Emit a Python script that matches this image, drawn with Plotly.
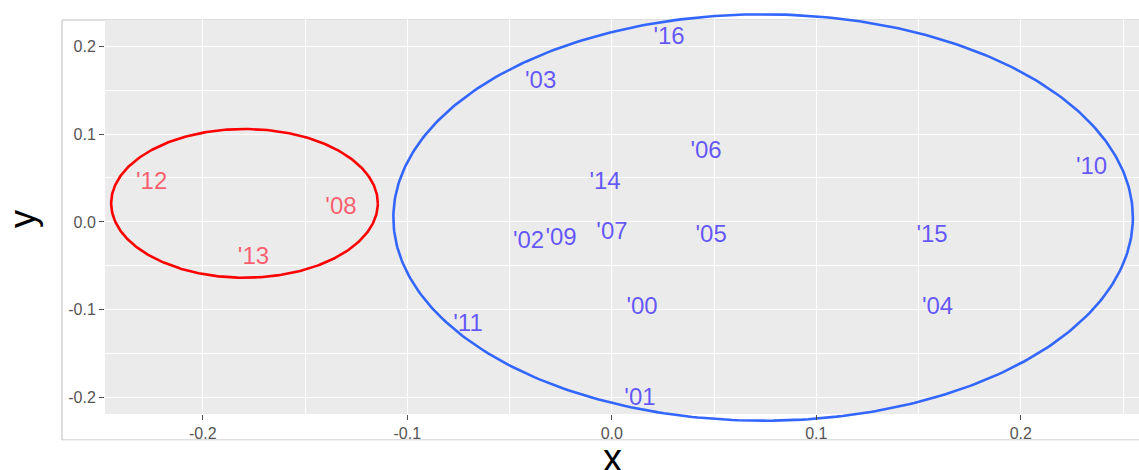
import numpy as np
import plotly.graph_objects as go

# Year labels and their (x, y) coordinates, grouped by cluster
red_labels = ["'12", "'08", "'13"]
red_x = [-0.2250, -0.1324, -0.1752]
red_y = [0.0448, 0.0164, -0.0405]

blue_labels = ["'16", "'03", "'06", "'14", "'10", "'02", "'09",
               "'07", "'05", "'15", "'00", "'04", "'11", "'01"]
blue_x = [0.0280, -0.0348, 0.0461, -0.0033, 0.2346, -0.0407, -0.0248,
          0.0001, 0.0486, 0.1566, 0.0148, 0.1593, -0.0703, 0.0138]
blue_y = [0.2096, 0.1595, 0.0790, 0.0448, 0.0619, -0.0234, -0.0195,
          -0.0126, -0.0160, -0.0160, -0.0974, -0.0974, -0.1173, -0.2015]

# Cluster ellipses: centre and semi-axes
red_ellipse = {"cx": -0.1796, "cy": 0.0211, "rx": 0.0652, "ry": 0.0846}
blue_ellipse = {"cx": 0.0740, "cy": 0.0050, "rx": 0.1808, "ry": 0.2312}

tick_vals = [-0.2, -0.1, 0.0, 0.1, 0.2]
tick_text = ["-0.2", "-0.1", "0.0", "0.1", "0.2"]

W, H = 1139, 470
ML, MR, MT, MB = 105, 0, 10, 44
PW, PH = W - ML - MR, H - MT - MB

# data ranges of the drawing area and of the grey panel inside it
x_range = [-0.2478, 0.2578]
y_range = [-0.2322, 0.2411]
panel_y = [-0.2185, 0.2297]
panel_bottom_px = 414

FONT = "Liberation Sans, Arial, sans-serif"


def ellipse_path(e, n=400):
    t = np.linspace(0, 2 * np.pi, n)
    return e["cx"] + e["rx"] * np.cos(t), e["cy"] + e["ry"] * np.sin(t)


def px_x(p):
    return (p - ML) / PW


def px_y(p):
    return (MT + PH - p) / PH


fig = go.Figure()

ex, ey = ellipse_path(red_ellipse)
fig.add_trace(go.Scatter(x=ex, y=ey, mode="lines",
                         line=dict(color="#FF0000", width=2.6),
                         hoverinfo="skip", showlegend=False))
ex, ey = ellipse_path(blue_ellipse)
fig.add_trace(go.Scatter(x=ex, y=ey, mode="lines",
                         line=dict(color="#3366FF", width=2.6),
                         hoverinfo="skip", showlegend=False))

fig.add_trace(go.Scatter(x=red_x, y=red_y, mode="text", text=red_labels,
                         textposition="middle center",
                         textfont=dict(family=FONT, size=24,
                                       color="rgba(255,40,60,0.72)"),
                         cliponaxis=False, showlegend=False))
fig.add_trace(go.Scatter(x=blue_x, y=blue_y, mode="text", text=blue_labels,
                         textposition="middle center",
                         textfont=dict(family=FONT, size=24,
                                       color="rgba(30,10,255,0.68)"),
                         cliponaxis=False, showlegend=False))

shapes = [
    # grey panel
    dict(type="rect", xref="x", yref="y", x0=x_range[0], x1=x_range[1],
         y0=panel_y[0], y1=panel_y[1], fillcolor="#EBEBEB",
         line=dict(width=0), layer="below"),
    # outer frame
    dict(type="rect", xref="paper", yref="paper",
         x0=px_x(62), x1=px_x(1145), y0=px_y(440), y1=px_y(20),
         fillcolor="rgba(0,0,0,0)", line=dict(color="#BDBDBD", width=1),
         layer="below"),
    # strip below the frame
    dict(type="rect", xref="paper", yref="paper",
         x0=px_x(62), x1=px_x(1145), y0=px_y(449), y1=px_y(440.6),
         fillcolor="white", line=dict(width=0), layer="above"),
]

axis_common = dict(
    tickvals=tick_vals, ticktext=tick_text,
    ticks="outside", ticklen=5, tickwidth=1, tickcolor="#4D4D4D",
    tickfont=dict(family=FONT, size=16, color="#555555"),
    showgrid=True, gridcolor="white", gridwidth=1.4,
    minor=dict(dtick=0.05, tick0=0, showgrid=True, gridcolor="white",
               gridwidth=0.7, ticks=""),
    zeroline=False, showline=False,
)

fig.update_layout(
    width=W, height=H,
    margin=dict(l=ML, r=MR, t=MT, b=MB),
    paper_bgcolor="white", plot_bgcolor="white",
    xaxis=dict(range=x_range, anchor="free",
               position=(MT + PH - panel_bottom_px) / PH, **axis_common),
    yaxis=dict(range=y_range, **axis_common),
    shapes=shapes,
    annotations=[
        dict(text="x", xref="paper", yref="paper", x=px_x(612), y=px_y(458),
             xanchor="center", yanchor="middle", showarrow=False,
             font=dict(family=FONT, size=38, color="black")),
        dict(text="y", xref="paper", yref="paper", x=px_x(22), y=px_y(219),
             xanchor="center", yanchor="middle", showarrow=False,
             textangle=-90, font=dict(family=FONT, size=36, color="black")),
    ],
    showlegend=False,
)

fig.write_html("out.html")
